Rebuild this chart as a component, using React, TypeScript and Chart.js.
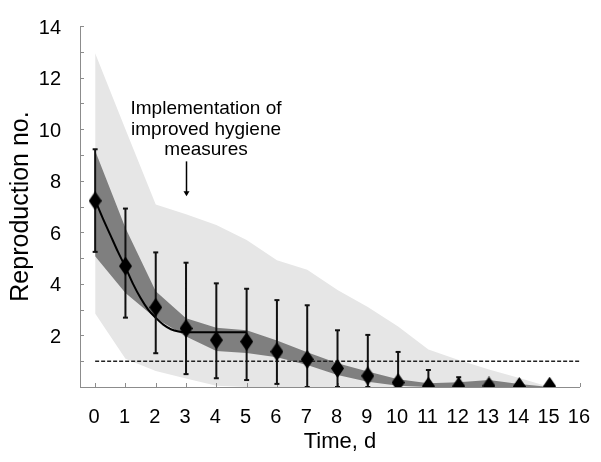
import React, { useEffect, useRef } from 'react';
import { Chart, registerables } from 'chart.js';

Chart.register(...registerables);

// ---- data ----
const days = [0, 1, 2, 3, 4, 5, 6, 7, 8, 9, 10, 11, 12, 13, 14, 15];
const meanR = [7.22, 4.69, 3.09, 2.27, 1.82, 1.76, 1.37, 1.07, 0.72, 0.43, 0.17, 0.03, 0.03, 0.04, 0.02, 0.03];
const errHigh = [9.22, 6.92, 5.22, 4.82, 4.02, 3.81, 3.37, 3.17, 2.2, 2.02, 1.36, 0.66, 0.38, 0.04, 0.02, 0.03];
const errLow = [5.24, 2.69, 1.31, 0.5, 0.34, 0.27, 0.12, 0, 0, 0, 0, 0, 0, 0.04, 0.02, 0.03];
const darkHigh = [9.16, 6.17, 3.71, 2.67, 2.3, 2.2, 1.8, 1.35, 0.92, 0.6, 0.3, 0.15, 0.18, 0.27, 0.12, 0];
const darkLow = [5.07, 3.65, 2.67, 1.96, 1.4, 1.32, 1.15, 0.85, 0.47, 0.2, 0.05, 0, 0, 0, 0, 0];
const lightHigh = [12.94, 10.0, 7.08, 6.7, 6.28, 5.7, 4.92, 4.55, 3.76, 3.1, 2.35, 1.45, 1.05, 0.68, 0.35, 0];
const lightLow = [2.85, 1.1, 0.62, 0.33, 0.05, 0, 0, 0, 0, 0, 0, 0, 0, 0, 0, 0];
const fitDays = [0, 0.25, 0.5, 0.75, 1, 1.25, 1.5, 1.75, 2, 2.25, 2.5, 2.75, 3, 5];
const fitR = [7.25, 6.55, 5.9, 5.25, 4.65, 4.0, 3.45, 3.0, 2.68, 2.42, 2.24, 2.15, 2.12, 2.12];
const thresholdDays = [0, 16];
const thresholdR = [1, 1];
const xTicks = [0, 1, 2, 3, 4, 5, 6, 7, 8, 9, 10, 11, 12, 13, 14, 15, 16];
const yTicks = [0, 1, 2, 3, 4, 5, 6, 7, 8, 9, 10, 11, 12, 13, 14];
const yLabelValues = [2, 4, 6, 8, 10, 12, 14];
const interventionDay = 3;
const arrowFromR = 8.75;
const arrowToR = 7.4;
const annotationDay = 3.66;
const annotationLinesR = [10.59, 9.79, 8.99];
const annotationLines = ['Implementation of', 'improved hygiene', 'measures'];
const xTitle = 'Time, d';
const yTitle = 'Reproduction no.';

const FONT = '"Liberation Sans", Arial, Helvetica, sans-serif';
const AXIS = '#8c8c8c';

export default function App() {
  const ref = useRef<HTMLCanvasElement>(null);

  useEffect(() => {
    const canvas = ref.current;
    if (!canvas) return;

    const diamond = document.createElement('canvas');
    diamond.width = 13;
    diamond.height = 19;
    const dctx = diamond.getContext('2d')!;
    dctx.fillStyle = '#000';
    dctx.beginPath();
    dctx.moveTo(6.5, 0);
    dctx.lineTo(13, 9.5);
    dctx.lineTo(6.5, 19);
    dctx.lineTo(0, 9.5);
    dctx.closePath();
    dctx.fill();

    const xy = (xs: number[], ys: number[]) => xs.map((x, i) => ({ x, y: ys[i] }));
    const errData: any[] = [];
    days.forEach((d, i) => {
      errData.push({ x: d, y: errLow[i] }, { x: d, y: errHigh[i] }, { x: d, y: null });
    });

    const decor = {
      id: 'decor',
      beforeDatasetDraw(chart: any, args: any) {
        if (args.index !== 3) return;
        const { ctx, chartArea, scales } = chart;
        const x = scales.x;
        const y = scales.y;
        ctx.save();
        ctx.strokeStyle = AXIS;
        ctx.lineWidth = 1;
        ctx.beginPath();
        xTicks.forEach((v) => {
          const px = Math.round(x.getPixelForValue(v)) + 0.5;
          ctx.moveTo(px, chartArea.bottom);
          ctx.lineTo(px, chartArea.bottom - 4);
        });
        yTicks.forEach((v) => {
          if (v === 0) return;
          const py = Math.round(y.getPixelForValue(v)) + 0.5;
          ctx.moveTo(chartArea.left, py);
          ctx.lineTo(chartArea.left + 4, py);
        });
        ctx.stroke();
        ctx.restore();
      },
      afterDatasetsDraw(chart: any) {
        const { ctx, chartArea, scales } = chart;
        const x = scales.x;
        const y = scales.y;
        ctx.save();
        // arrow
        const ax = Math.round(x.getPixelForValue(interventionDay)) + 0.5;
        const ay1 = y.getPixelForValue(arrowFromR);
        const ay2 = y.getPixelForValue(arrowToR);
        ctx.strokeStyle = '#000';
        ctx.fillStyle = '#000';
        ctx.lineWidth = 1.5;
        ctx.beginPath();
        ctx.moveTo(ax, ay1);
        ctx.lineTo(ax, ay2 - 4);
        ctx.stroke();
        ctx.beginPath();
        ctx.moveTo(ax - 3, ay2 - 5);
        ctx.lineTo(ax + 3, ay2 - 5);
        ctx.lineTo(ax, ay2);
        ctx.closePath();
        ctx.fill();
        // annotation text
        ctx.font = `19px ${FONT}`;
        ctx.textAlign = 'center';
        ctx.textBaseline = 'alphabetic';
        const tx = x.getPixelForValue(annotationDay);
        annotationLines.forEach((t, i) => {
          ctx.fillText(t, tx, y.getPixelForValue(annotationLinesR[i]));
        });
        // x title
        ctx.font = `22px ${FONT}`;
        ctx.fillText(xTitle, (chartArea.left + chartArea.right) / 2 + 10, 448);
        ctx.restore();
      },
    };

    const chart = new Chart(canvas, {
      type: 'line',
      data: {
        datasets: [
          {
            data: xy(days, meanR),
            showLine: false,
            pointStyle: diamond as any,
            pointRadius: 9,
            pointHoverRadius: 9,
            clip: 0,
            order: 0,
          } as any,
          {
            data: errData,
            showLine: true,
            spanGaps: false,
            borderColor: '#111',
            borderWidth: 2,
            pointStyle: 'line',
            pointRadius: 2.5,
            pointBorderWidth: 2,
            pointBorderColor: '#111',
            clip: 0,
            order: 1,
          } as any,
          {
            data: xy(fitDays, fitR),
            borderColor: '#000',
            borderWidth: 2,
            pointRadius: 0,
            cubicInterpolationMode: 'monotone',
            order: 2,
          } as any,
          {
            data: xy(thresholdDays, thresholdR),
            borderColor: '#222',
            borderWidth: 1.6,
            borderDash: [4, 2],
            pointRadius: 0,
            order: 3,
          } as any,
          {
            data: xy(days, darkHigh),
            borderWidth: 0,
            pointRadius: 0,
            fill: '+1',
            backgroundColor: '#7f7f7f',
            order: 4,
          } as any,
          {
            data: xy(days, darkLow),
            borderWidth: 0,
            pointRadius: 0,
            fill: false,
            order: 5,
          } as any,
          {
            data: xy(days, lightHigh),
            borderWidth: 0,
            pointRadius: 0,
            fill: '+1',
            backgroundColor: '#e6e6e6',
            order: 6,
          } as any,
          {
            data: xy(days, lightLow),
            borderWidth: 0,
            pointRadius: 0,
            fill: false,
            order: 7,
          } as any,
        ],
      },
      options: {
        responsive: false,
        animation: false,
        events: [],
        layout: { padding: { top: 26, right: 16, left: 0, bottom: 0 } },
        plugins: {
          legend: { display: false },
          tooltip: { enabled: false },
        },
        scales: {
          x: {
            type: 'linear',
            min: -0.5,
            max: 16,
            afterBuildTicks: (s: any) => {
              s.ticks = xTicks.map((v) => ({ value: v }));
            },
            afterFit: (s: any) => {
              s.height = 75;
            },
            grid: { display: false },
            border: { display: true, color: AXIS, width: 1 },
            ticks: {
              autoSkip: false,
              maxRotation: 0,
              padding: 10,
              labelOffset: -1,
              color: '#000',
              font: { family: FONT, size: 20 },
              callback: (v: any) => String(v),
            },
          },
          y: {
            type: 'linear',
            min: 0,
            max: 14,
            afterBuildTicks: (s: any) => {
              s.ticks = yTicks.map((v) => ({ value: v }));
            },
            afterFit: (s: any) => {
              s.width = 80;
            },
            grid: { display: false },
            border: { display: true, color: AXIS, width: 1 },
            ticks: {
              autoSkip: false,
              padding: 11,
              labelOffset: 2,
              color: '#000',
              font: { family: FONT, size: 20 },
              callback: (v: any) => (yLabelValues.includes(Number(v)) ? String(v) : ''),
            },
            title: {
              display: true,
              text: yTitle,
              color: '#000',
              font: { family: FONT, size: 25 },
              padding: { top: 6, bottom: 0 },
            },
          },
        },
      } as any,
      plugins: [decor],
    });

    return () => chart.destroy();
  }, []);

  return (
    <div style={{ position: 'absolute', left: 0, top: 0, width: 601, height: 462, background: '#fff' }}>
      <canvas ref={ref} width={601} height={462} style={{ display: 'block' }} />
    </div>
  );
}
